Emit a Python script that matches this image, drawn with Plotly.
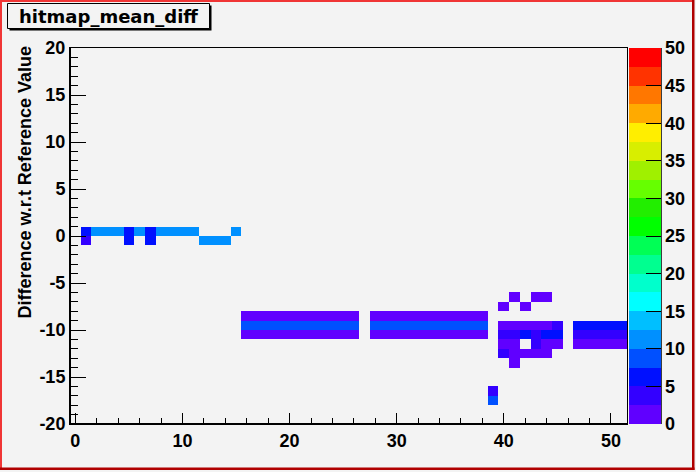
import plotly.graph_objects as go

# ---------------- data ----------------
# horizontal runs of equal-valued cells: x-bin start, x-bin end (inclusive), y-bin lower edge, content
run_x0 = [1, 2, 5, 6, 7, 8, 15,
          1, 5, 7, 12,
          16, 28, 16, 28, 16, 28,
          41, 43,
          40, 42,
          40, 45, 47,
          40, 42, 43, 44, 47,
          40, 43, 44, 47,
          40, 41,
          41,
          39, 39]
run_x1 = [1, 4, 5, 6, 7, 11, 15,
          1, 5, 7, 14,
          26, 38, 26, 38, 26, 38,
          41, 44,
          40, 42,
          44, 45, 51,
          41, 42, 43, 45, 51,
          41, 43, 45, 51,
          40, 44,
          41,
          39, 39]
run_y = [0, 0, 0, 0, 0, 0, 0,
         -1, -1, -1, -1,
         -9, -9, -10, -10, -11, -11,
         -7, -7,
         -8, -8,
         -10, -10, -10,
         -11, -11, -11, -11, -11,
         -12, -12, -12, -12,
         -13, -13,
         -14,
         -17, -18]
run_v = [6, 11, 6, 11, 6, 11, 11,
         4, 6, 6, 11,
         2, 2, 9, 9, 2, 2,
         2, 2,
         2, 2,
         2, 4, 6,
         4, 6, 4, 6, 4,
         2, 4, 2, 2,
         4, 2,
         2,
         4, 9]

x_centers = list(range(0, 52))          # 52 bins, -0.5 .. 51.5
y_centers = [v + 0.5 for v in range(-20, 20)]  # 40 bins, -20 .. 20

palette = ["#6000FF", "#3300FF", "#0010FF", "#0050FF", "#0090FF",
           "#00BFFF", "#00FFFF", "#00FFCC", "#00FF90", "#00FF55",
           "#00FF00", "#22EE00", "#66FF00", "#A0F000", "#D8EE00",
           "#FFEE00", "#FFAA00", "#FF7700", "#FF3300", "#FF0000"]
z_min, z_max = 0, 50
cbar_ticks = [0, 5, 10, 15, 20, 25, 30, 35, 40, 45, 50]

x_tick_vals = [0, 10, 20, 30, 40, 50]
y_tick_vals = [-20, -15, -10, -5, 0, 5, 10, 15, 20]
y_tick_text = ["-20", "-15", "-10", "-5", "0", "5", "10", "15", "20"]

title_text = "hitmap_mean_diff"
y_title = "Difference w.r.t Reference Value"

# ---------------- build matrix ----------------
z = [[None for _ in x_centers] for _ in y_centers]
for a, b, yl, v in zip(run_x0, run_x1, run_y, run_v):
    r = yl + 20
    for c in range(a, b + 1):
        z[r][c] = v

n = len(palette)
cscale = []
for i, col in enumerate(palette):
    cscale.append([i / n, col])
    cscale.append([(i + 1) / n, col])

# ---------------- layout geometry (pixels) ----------------
W, H = 696, 472
L, R, T, B = 70, 69, 48, 48
PW, PH = W - L - R, H - T - B
BG = "#F3F3F3"
FONT = "Liberation Sans"


def px(xp):
    return (xp - L) / PW


def py(yp):
    return (H - B - yp) / PH


fig = go.Figure()
fig.add_trace(go.Heatmap(
    x=x_centers, y=y_centers, z=z,
    zmin=z_min, zmax=z_max, colorscale=cscale,
    hoverongaps=False,
    colorbar=dict(
        x=px(629), xanchor="left", xpad=0, ypad=0,
        y=0.5, yanchor="middle", len=1, lenmode="fraction",
        thickness=32, thicknessmode="pixels",
        outlinewidth=0,
        tickmode="array", tickvals=cbar_ticks,
        ticks="inside", ticklen=15, tickcolor="black", tickwidth=1,
        tickfont=dict(family=FONT, size=18, color="black", weight="bold"),
    ),
))

axis_font = dict(family=FONT, size=18, color="black", weight="bold")
fig.update_xaxes(
    range=[-0.5, 51.5], tickmode="array", tickvals=x_tick_vals,
    ticks="inside", ticklen=11, tickwidth=1, tickcolor="black",
    showline=True, linecolor="black", linewidth=1, mirror=True,
    showgrid=False, zeroline=False, tickfont=axis_font,
    minor=dict(tickmode="linear", tick0=0, dtick=2, ticks="inside",
               ticklen=6, tickcolor="black", showgrid=False),
)
fig.update_yaxes(
    range=[-20, 20], tickmode="array", tickvals=y_tick_vals, ticktext=y_tick_text,
    ticks="inside", ticklen=16, tickwidth=1, tickcolor="black",
    showline=True, linecolor="black", linewidth=1, mirror=True,
    showgrid=False, zeroline=False, tickfont=axis_font,
    minor=dict(tickmode="linear", tick0=0, dtick=1, ticks="inside",
               ticklen=8, tickcolor="black", showgrid=False),
)

shapes = []
# thicker bottom / left axis lines
shapes.append(dict(type="line", xref="paper", yref="paper", x0=0, x1=1, y0=0, y1=0,
                   line=dict(color="black", width=2)))
shapes.append(dict(type="line", xref="paper", yref="paper", x0=0, x1=0, y0=0, y1=1,
                   line=dict(color="black", width=2)))
# colorbar axis line
shapes.append(dict(type="line", xref="paper", yref="paper", x0=px(661), x1=px(661), y0=0, y1=1,
                   line=dict(color="black", width=1.5)))
# title box shadow and box
shapes.append(dict(type="rect", xref="paper", yref="paper",
                   x0=px(9.5), x1=px(211.5), y0=py(30.5), y1=py(5.5),
                   fillcolor="black", line=dict(width=0)))
shapes.append(dict(type="rect", xref="paper", yref="paper",
                   x0=px(7.5), x1=px(209.5), y0=py(28.5), y1=py(3.5),
                   fillcolor=BG, line=dict(color="black", width=1)))
# canvas border (highlighted pad)
shapes.append(dict(type="rect", xref="paper", yref="paper",
                   x0=px(0), x1=px(2), y0=py(470), y1=py(0),
                   fillcolor="#F03535", line=dict(width=0)))
shapes.append(dict(type="rect", xref="paper", yref="paper",
                   x0=px(0), x1=px(694), y0=py(2), y1=py(0),
                   fillcolor="#F03535", line=dict(width=0)))
shapes.append(dict(type="rect", xref="paper", yref="paper",
                   x0=px(692), x1=px(694.5), y0=py(470), y1=py(0),
                   fillcolor="#B00000", line=dict(width=0)))
shapes.append(dict(type="rect", xref="paper", yref="paper",
                   x0=px(0), x1=px(694.5), y0=py(470), y1=py(467.5),
                   fillcolor="#B00000", line=dict(width=0)))

annotations = [
    dict(text=title_text, xref="paper", yref="paper", x=px(108), y=py(16),
         xanchor="center", yanchor="middle", showarrow=False,
         font=dict(family="DejaVu Sans", size=18, color="black", weight="bold")),
    dict(text=y_title, xref="paper", yref="paper", x=px(24), y=py(182.5),
         xanchor="center", yanchor="middle", showarrow=False, textangle=-90,
         font=dict(family=FONT, size=18, color="black", weight="bold")),
]

fig.update_layout(
    width=W, height=H,
    margin=dict(l=L, r=R, t=T, b=B, pad=0, autoexpand=False),
    paper_bgcolor=BG, plot_bgcolor=BG,
    shapes=shapes, annotations=annotations,
    showlegend=False,
)

fig.write_html(
    "out.html",
    config={"displayModeBar": False},
    post_script="document.body.style.margin='0';document.body.style.padding='0';"
                "document.documentElement.style.overflow='hidden';",
)
